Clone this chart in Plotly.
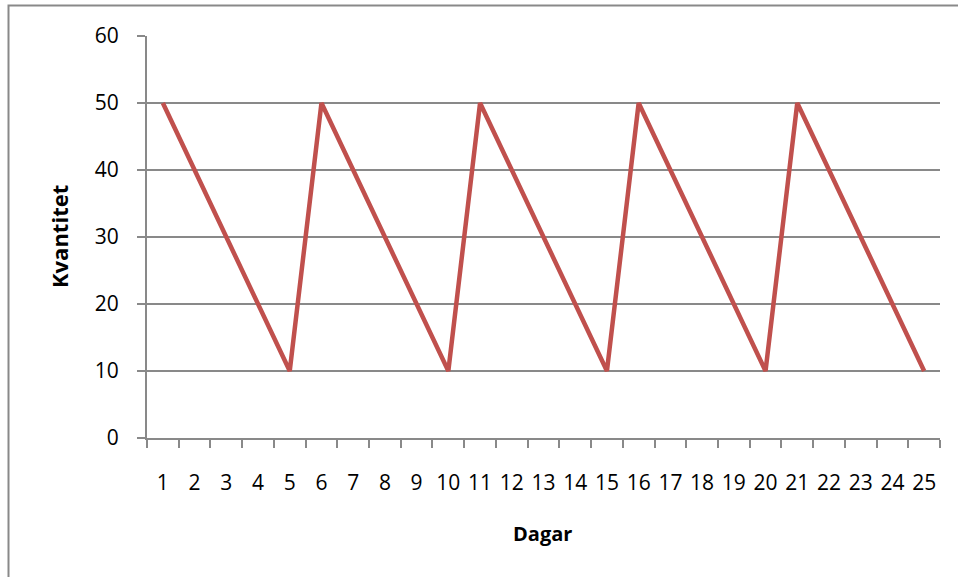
import plotly.graph_objects as go

days = [str(d) for d in range(1, 26)]
quantity = [50, 40, 30, 20, 10,
            50, 40, 30, 20, 10,
            50, 40, 30, 20, 10,
            50, 40, 30, 20, 10,
            50, 40, 30, 20, 10]
y_ticks = [0, 10, 20, 30, 40, 50, 60]

W, H = 958, 577
L, R, T, B = 147, 18, 36, 139
pw, ph = W - L - R, H - T - B

FONT = "Open Sans, Liberation Sans, sans-serif"
GRID = "#898989"

fig = go.Figure()
fig.add_trace(go.Scatter(
    x=days, y=quantity, mode="lines",
    line=dict(color="#C0504D", width=4.5),
    showlegend=False, hoverinfo="skip",
))

fig.update_layout(
    width=W, height=H,
    margin=dict(l=L, r=R, t=T, b=B, pad=0, autoexpand=False),
    paper_bgcolor="white", plot_bgcolor="white",
    font=dict(family=FONT, size=21, color="black"),
    xaxis=dict(
        type="category", tickson="boundaries",
        range=[-0.5, len(days) - 0.5], automargin=False,
        tickangle=0,
        ticks="outside", ticklen=8, tickwidth=2, tickcolor=GRID,
        showline=True, linecolor=GRID, linewidth=2,
        showgrid=False, zeroline=False,
        tickfont=dict(family=FONT, size=21),
        ticklabelstandoff=25,
    ),
    yaxis=dict(
        range=[0, 60], tickvals=y_ticks, automargin=False,
        ticks="outside", ticklen=8, tickwidth=2, tickcolor=GRID,
        showline=True, linecolor=GRID, linewidth=2,
        showgrid=True, gridcolor=GRID, gridwidth=2,
        zeroline=False,
        tickfont=dict(family=FONT, size=21),
        ticklabelstandoff=14,
    ),
    annotations=[
        dict(text="<b>Dagar</b>", xref="paper", yref="paper",
             x=(542 - L) / pw, y=(H - B - 533) / ph,
             xanchor="center", yanchor="middle", showarrow=False,
             font=dict(family=FONT, size=20)),
        dict(text="<b>Kvantitet</b>", xref="paper", yref="paper",
             x=(59 - L) / pw, y=(H - B - 237) / ph, textangle=-90,
             xanchor="center", yanchor="middle", showarrow=False,
             font=dict(family=FONT, size=22)),
    ],
    shapes=[
        dict(type="rect", xref="paper", yref="paper",
             x0=(8.5 - L) / pw, x1=(965 - L) / pw,
             y0=(H - B - 590) / ph, y1=(H - B - 5.5) / ph,
             line=dict(color=GRID, width=2), fillcolor="rgba(0,0,0,0)",
             layer="below"),
    ],
)

fig.write_html("out.html",
               config={"displayModeBar": False},
               post_script="document.body.style.margin='0';document.body.style.overflow='hidden';")
